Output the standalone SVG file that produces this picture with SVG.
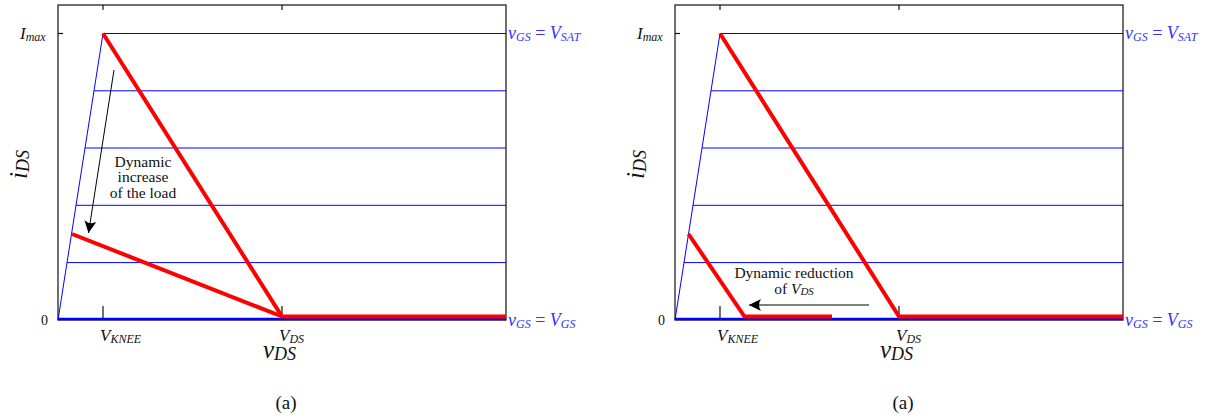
<svg xmlns="http://www.w3.org/2000/svg" width="1211" height="418" viewBox="0 0 1211 418" font-family="'Liberation Serif', 'DejaVu Serif', serif">
<style>
text{font-family:'Liberation Serif','DejaVu Serif',serif;fill:#111}
.it{font-style:italic}
.blue{fill:#3333ff}
.frame{fill:none;stroke:#333;stroke-width:1.4}
.tick{stroke:#111;stroke-width:1.2}
.grid{stroke:#0000ff;stroke-width:1;fill:none}
.base{stroke:#0000ff;stroke-width:2.6}
.load{stroke:#ff0000;stroke-width:4;fill:none;stroke-linejoin:miter}
.ann{font-size:15.5px;text-anchor:middle}
</style>
<defs>
<marker id="stealthK" markerUnits="userSpaceOnUse" markerWidth="16" markerHeight="14" viewBox="-13 -7 16 14" refX="0" refY="0" orient="auto">
<path d="M0,0 L-12,-6 Q-8,0 -12,6 Z" fill="#000"/>
</marker>
</defs>

<!-- Left plot -->
<g id="plotA">
<rect class="frame" x="58" y="5" width="448" height="315"/>
<g class="tick">
<line x1="103" y1="5" x2="103" y2="10"/>
<line x1="282" y1="5" x2="282" y2="10"/>
<line x1="58" y1="33.5" x2="63" y2="33.5"/>
<line x1="103" y1="306" x2="103" y2="320"/>
<line x1="282" y1="306" x2="282" y2="320"/>
</g>
<g class="grid">
<line x1="103" y1="33.5" x2="506" y2="33.5"/>
<line x1="94" y1="90.8" x2="506" y2="90.8"/>
<line x1="85" y1="148" x2="506" y2="148"/>
<line x1="76" y1="205.3" x2="506" y2="205.3"/>
<line x1="67" y1="262.6" x2="506" y2="262.6"/>
<line x1="58" y1="320" x2="103" y2="33.5"/>
</g>
<line class="base" x1="58" y1="319" x2="506" y2="319"/>
<polyline class="load" points="103,33.5 282,316.5 506,316.5"/>
<polyline class="load" points="72,234 282,316.5"/>
<text x="20" y="39" font-size="17" class="it">I<tspan font-size="12" dy="2">max</tspan></text>
<text x="41" y="325" font-size="14">0</text>
<text x="100" y="341" font-size="17" class="it">V<tspan font-size="12" dy="2">KNEE</tspan></text>
<text x="279" y="341" font-size="17" class="it">V<tspan font-size="12" dy="2">DS</tspan></text>
<text x="263" y="358" font-size="25" class="it">v<tspan font-size="18" dy="2">DS</tspan></text>
<text transform="translate(27,179) rotate(-90)" font-size="25" class="it">i<tspan font-size="18" dy="2">DS</tspan></text>
<text x="508" y="38.5" font-size="18" class="it blue">v<tspan font-size="12" dy="2">GS</tspan><tspan dy="-2" font-style="normal"> = </tspan>V<tspan font-size="12" dy="2">SAT</tspan></text>
<text x="508" y="326" font-size="18" class="it blue">v<tspan font-size="12" dy="2">GS</tspan><tspan dy="-2" font-style="normal"> = </tspan>V<tspan font-size="12" dy="2">GS</tspan></text>
<text x="286" y="409" font-size="19" text-anchor="middle">(a)</text>
</g>

<!-- Right plot -->
<g id="plotB">
<rect class="frame" x="675" y="5" width="448" height="315"/>
<g class="tick">
<line x1="720" y1="5" x2="720" y2="10"/>
<line x1="899" y1="5" x2="899" y2="10"/>
<line x1="675" y1="33.5" x2="680" y2="33.5"/>
<line x1="720" y1="306" x2="720" y2="320"/>
<line x1="899" y1="306" x2="899" y2="320"/>
</g>
<g class="grid">
<line x1="720" y1="33.5" x2="1123" y2="33.5"/>
<line x1="711" y1="90.8" x2="1123" y2="90.8"/>
<line x1="702" y1="148" x2="1123" y2="148"/>
<line x1="693" y1="205.3" x2="1123" y2="205.3"/>
<line x1="684" y1="262.6" x2="1123" y2="262.6"/>
<line x1="675" y1="320" x2="720" y2="33.5"/>
</g>
<line class="base" x1="675" y1="319" x2="1123" y2="319"/>
<polyline class="load" points="720,33.5 899,316.5 1123,316.5"/>
<polyline class="load" points="688.5,234 744.5,316.5 832,316.5"/>
<text x="637" y="39" font-size="17" class="it">I<tspan font-size="12" dy="2">max</tspan></text>
<text x="658" y="325" font-size="14">0</text>
<text x="717" y="341" font-size="17" class="it">V<tspan font-size="12" dy="2">KNEE</tspan></text>
<text x="896" y="341" font-size="17" class="it">V<tspan font-size="12" dy="2">DS</tspan></text>
<text x="880" y="358" font-size="25" class="it">v<tspan font-size="18" dy="2">DS</tspan></text>
<text transform="translate(644,179) rotate(-90)" font-size="25" class="it">i<tspan font-size="18" dy="2">DS</tspan></text>
<text x="1125" y="38.5" font-size="18" class="it blue">v<tspan font-size="12" dy="2">GS</tspan><tspan dy="-2" font-style="normal"> = </tspan>V<tspan font-size="12" dy="2">SAT</tspan></text>
<text x="1125" y="326" font-size="18" class="it blue">v<tspan font-size="12" dy="2">GS</tspan><tspan dy="-2" font-style="normal"> = </tspan>V<tspan font-size="12" dy="2">GS</tspan></text>
<text x="903" y="409" font-size="19" text-anchor="middle">(a)</text>
</g>

<!-- annotations -->
<g id="annotA">
<text class="ann" x="143" y="166.5">Dynamic</text>
<text class="ann" x="143" y="182">increase</text>
<text class="ann" x="143" y="197.5">of the load</text>
</g>
<g id="annotB">
<text class="ann" x="794" y="277.5">Dynamic reduction</text>
<text class="ann" x="794" y="293.5">of <tspan class="it">V</tspan><tspan class="it" font-size="11" dy="1.5">DS</tspan></text>
</g>
<g id="connectors">
<line x1="114" y1="70" x2="88.5" y2="233" stroke="#000" stroke-width="1" marker-end="url(#stealthK)"/>
<line x1="869" y1="305" x2="749" y2="305" stroke="#555" stroke-width="1.3" marker-end="url(#stealthK)"/>
</g>
</svg>
